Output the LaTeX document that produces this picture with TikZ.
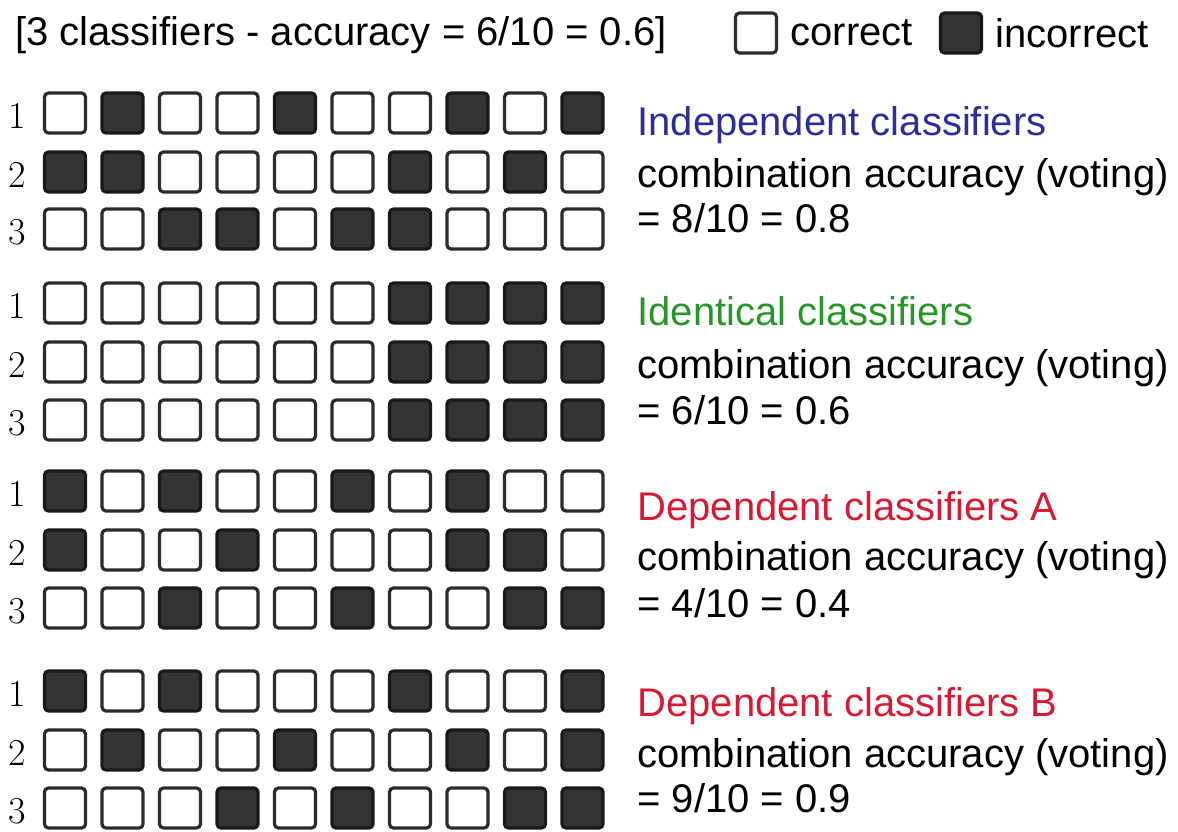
\documentclass[tikz,border=0pt]{standalone}
\usepackage{fontspec}
\newfontfamily\sansfont{Liberation Sans}
\usepackage{xcolor}
\usetikzlibrary{positioning}
\definecolor{indepblue}{RGB}{45,45,155}
\definecolor{identgreen}{RGB}{40,150,40}
\definecolor{depred}{RGB}{215,25,50}
\definecolor{cellgray}{RGB}{51,51,51}
\newcommand\txtfont{\sansfont\fontsize{20}{24}\selectfont}
\newcommand\numfont{\fontsize{19}{22}\selectfont}

\begin{document}
\begin{tikzpicture}[x=0.5pt, y=-0.5pt,
  every node/.style={font=\txtfont},
  cell/.style={draw=cellgray!85!black, line width=1.6pt, rounded corners=2pt,
    minimum width=20.5pt, minimum height=20pt, inner sep=0pt},
  cell0/.style={cell, fill=white},
  cell1/.style={cell, fill=cellgray, draw=black!90},
  info/.style={anchor=base west, inner sep=0pt},
  rowlab/.style={font=\numfont, inner sep=0pt}]
  \useasboundingbox (0,0) rectangle (1178,831);
  \node[info] (head) at (15,45) {[3 classifiers - accuracy = 6/10 = 0.6]};
  \node[cell0] (legok) at (756,33) {};
  \node[info, right=6pt of legok] (legoktxt) {correct};
  \node[cell1] (legbad) at (961,33) {};
  \node[info, right=6pt of legbad] (legbadtxt) {incorrect};

  \foreach \y/\lab/\pat [count=\n] in {
    113/1/{0,1,0,0,1,0,0,1,0,1}, 172/2/{1,1,0,0,0,0,1,0,1,0}, 229/3/{0,0,1,1,0,1,1,0,0,0},
    303/1/{0,0,0,0,0,0,1,1,1,1}, 362/2/{0,0,0,0,0,0,1,1,1,1}, 420/3/{0,0,0,0,0,0,1,1,1,1},
    491/1/{1,0,1,0,0,1,0,1,0,0}, 550/2/{1,0,0,1,0,0,0,1,1,0}, 608/3/{0,0,1,0,0,1,0,0,1,1},
    691/1/{1,0,1,0,0,0,1,0,0,1}, 750/2/{0,1,0,0,1,0,0,1,0,1}, 808/3/{0,0,0,1,0,1,0,0,1,1}} {
    \node[rowlab] (lab-\n) at (17,\y+3) {\lab};
    \foreach \v [count=\c] in \pat
      \node[cell\v] (cell-\n-\c) at ({65+57.5*(\c-1)},\y) {};
  }

  \node[info, text=indepblue] (title1) at (637,135) {Independent classifiers};
  \node[info] (comb1) at (637,187) {combination accuracy (voting)};
  \node[info] (acc1) at (637,232) {= 8/10 = 0.8};
  \node[info, text=identgreen] (title2) at (637,325) {Identical classifiers};
  \node[info] (comb2) at (637,378) {combination accuracy (voting)};
  \node[info] (acc2) at (637,424) {= 6/10 = 0.6};
  \node[info, text=depred] (title3) at (637,520) {Dependent classifiers A};
  \node[info] (comb3) at (637,570) {combination accuracy (voting)};
  \node[info] (acc3) at (637,617) {= 4/10 = 0.4};
  \node[info, text=depred] (title4) at (637,716) {Dependent classifiers B};
  \node[info] (comb4) at (637,767) {combination accuracy (voting)};
  \node[info] (acc4) at (637,812) {= 9/10 = 0.9};
\end{tikzpicture}
\end{document}
